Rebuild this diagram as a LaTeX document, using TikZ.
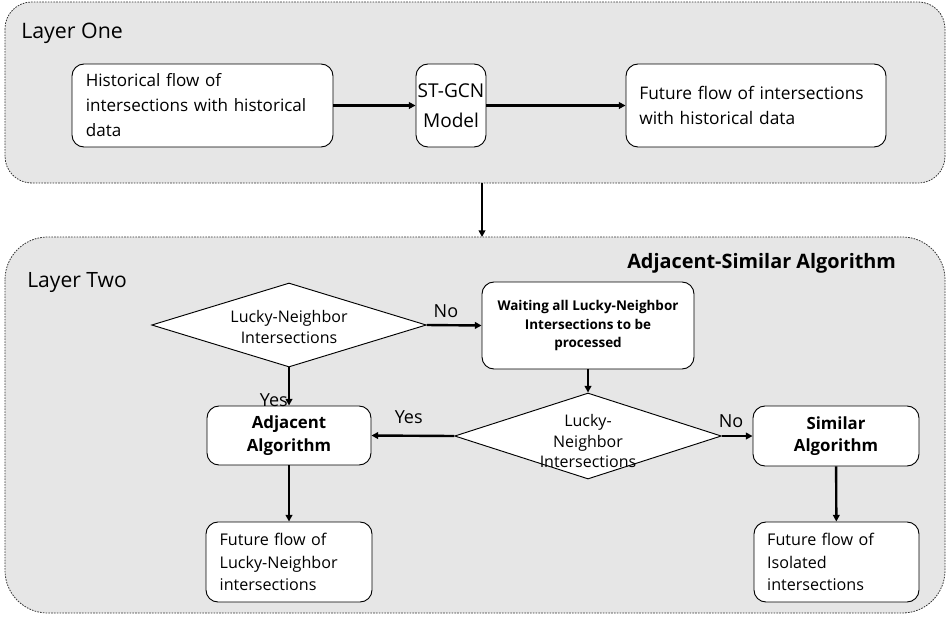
\documentclass[tikz,border=0pt]{standalone}
\usepackage{fontspec}
\setmainfont{Open Sans}
\usetikzlibrary{shapes.geometric,arrows.meta}
\definecolor{bgray}{HTML}{E6E6E6}
\tikzset{
  layerbox/.style={draw=black!80, fill=bgray, dash pattern=on 1.2pt off 0.9pt, line width=0.6pt},
  rbox/.style={draw=black, fill=white, rounded corners=9pt, line width=0.7pt, inner sep=0pt, minimum height=62.25pt},
  dia/.style={draw=black, fill=white, diamond, inner sep=0pt, line width=0.7pt},
  arr/.style={line width=1.8pt, -{Triangle[length=5pt,width=5pt]}},
  lbl/.style={font=\fontsize{13.5pt}{15pt}\selectfont, inner sep=0pt},
}
\begin{document}
\begin{tikzpicture}[x=0.75pt,y=-0.75pt]
\useasboundingbox (0,0) rectangle (948,618);
% layers
\draw[layerbox, rounded corners=20pt] (5,2) rectangle (945,183);
\draw[layerbox, rounded corners=32pt] (5,237) rectangle (945,613);
\coordinate (l1b) at (482,183);
\coordinate (l2t) at (482,237);
\node[anchor=west, inner sep=0pt, font=\fontsize{16pt}{18pt}\selectfont] (t1) at (21,33) {Layer One};
\node[anchor=west, inner sep=0pt, font=\fontsize{15.8pt}{18pt}\selectfont] (t2) at (27,283) {Layer Two};
\node[anchor=west, inner sep=0pt, font=\bfseries\fontsize{14.9pt}{17pt}\selectfont] (t3) at (627,263) {Adjacent-Similar Algorithm};
% layer one
\node[rbox, minimum width=195.75pt, text width=175pt, align=left, font=\fontsize{12.8pt}{18.75pt}\selectfont] (hist) at (202.5,105.5) {Historical flow of\\intersections with historical\\data};
\node[rbox, minimum width=52.5pt, align=center, font=\fontsize{14.3pt}{22.5pt}\selectfont] (stg) at (451,105.5) {ST-GCN\\Model};
\node[rbox, minimum width=195pt, text width=175pt, align=left, font=\fontsize{13pt}{18.75pt}\selectfont] (fut) at (756,105.5) {Future flow of intersections\\with historical data};
\draw[arr] (hist) -- (stg);
\draw[arr] (stg) -- (fut);
\draw[arr] (l1b) -- (l2t);
% layer two
\node[dia, minimum width=206pt, minimum height=63pt] (d1) at (289,325) {};
\node[align=center, font=\fontsize{12pt}{16pt}\selectfont, inner sep=0pt] (d1t) at (289,327) {Lucky-Neighbor\\Intersections};
\node[rbox, minimum width=159pt, minimum height=65.25pt, align=center, font=\bfseries\fontsize{10.1pt}{14pt}\selectfont] (wait) at (588,325.5) {Waiting all Lucky-Neighbor\\Intersections to be\\processed};
\node[dia, minimum width=200pt, minimum height=64.5pt] (d2) at (588,436) {};
\node[align=center, font=\fontsize{12pt}{15.5pt}\selectfont, inner sep=0pt] (d2t) at (588,441) {Lucky-\\Neighbor\\Intersections};
\node[rbox, minimum width=123pt, minimum height=44.25pt, align=center, font=\bfseries\fontsize{12.6pt}{17pt}\selectfont] (adj) at (289,435.5) {Adjacent\\Algorithm};
\node[rbox, minimum width=124.5pt, minimum height=45pt, align=center, font=\bfseries\fontsize{12.6pt}{17pt}\selectfont] (sim) at (836,436) {Similar\\Algorithm};
\node[rbox, minimum width=124.5pt, minimum height=60pt, text width=104pt, align=left, font=\fontsize{12.1pt}{17pt}\selectfont] (fln) at (289,562) {Future flow of\\Lucky-Neighbor\\intersections};
\node[rbox, minimum width=123.75pt, minimum height=60pt, text width=104pt, align=left, font=\fontsize{12.1pt}{17pt}\selectfont] (fiso) at (836.5,562) {Future flow of\\Isolated\\intersections};
\draw[arr] (d1.east) -- (wait.west) node[lbl, pos=0.35, above=5pt] {No};
\draw[arr] (wait) -- (d2.north);
\draw[arr] (d1.south) -- (adj.north) node[lbl, pos=0.85, left=0pt] {Yes};
\draw[arr] (d2.west) -- (adj.east) node[lbl, pos=0.55, above=8pt] {Yes};
\draw[arr] (d2.east) -- (sim.west) node[lbl, pos=0.3, above=5pt] {No};
\draw[arr] (adj) -- (fln);
\draw[arr] (sim) -- (fiso);
\end{tikzpicture}
\end{document}
